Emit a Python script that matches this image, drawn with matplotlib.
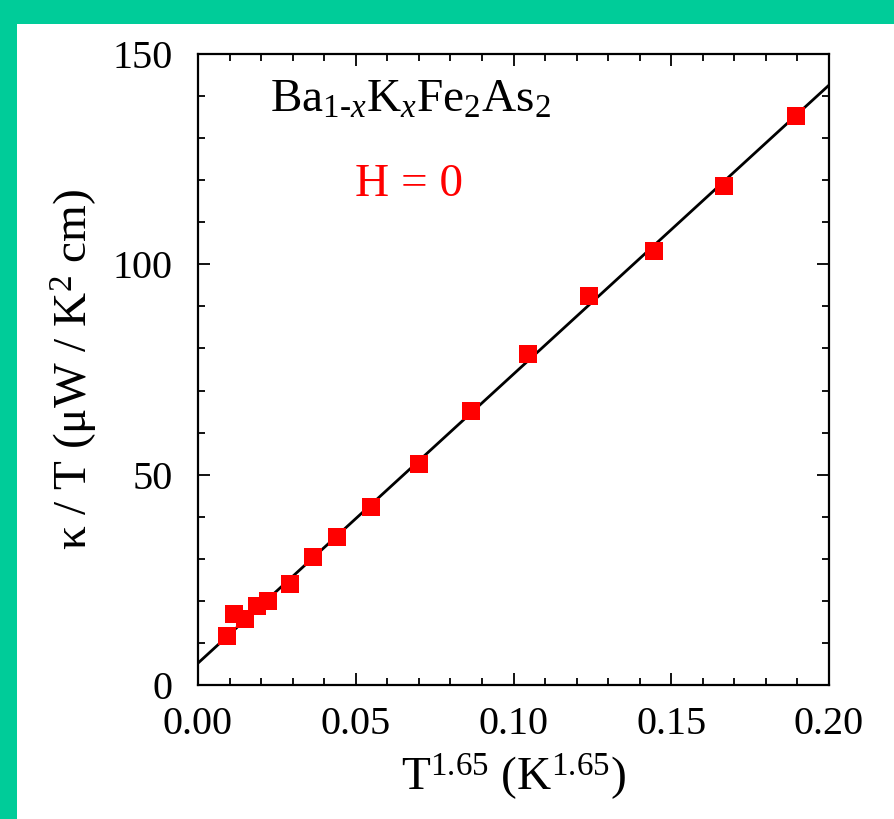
import matplotlib
matplotlib.use('Agg')
import matplotlib.pyplot as plt
from matplotlib.patches import Rectangle
from matplotlib.ticker import MultipleLocator

# data
t165 = [0.0092, 0.0114, 0.0149, 0.0187, 0.0222, 0.0292, 0.0364, 0.0441,
        0.0548, 0.0700, 0.0865, 0.1046, 0.1240, 0.1445, 0.1667, 0.1895]
kappa_T = [11.7, 16.9, 15.7, 18.8, 20.0, 24.0, 30.5, 35.2,
           42.4, 52.6, 65.2, 78.8, 92.4, 103.1, 118.6, 135.2]

# linear fit end points
fit_x = [0.0, 0.2]
fit_y = [5.2, 142.6]

plt.rcParams['font.family'] = ['Liberation Serif', 'DejaVu Serif']
plt.rcParams['mathtext.fontset'] = 'custom'
plt.rcParams['mathtext.rm'] = 'Liberation Serif'
plt.rcParams['mathtext.it'] = 'Liberation Serif:italic'
plt.rcParams['mathtext.bf'] = 'Liberation Serif:bold'

fig = plt.figure(figsize=(8.95, 8.19), dpi=100, facecolor='#00CC99')
fig.patches.append(Rectangle((17/895, 0), 1, 1 - 24/819, transform=fig.transFigure,
                             facecolor='white', edgecolor='none', zorder=-10))

ax = fig.add_axes([198/895, 1 - 685/819, 631/895, 631/819])
ax.set_zorder(5)

ax.plot(fit_x, fit_y, color='black', lw=2, zorder=2)
ax.plot(t165, kappa_T, 's', color='red', markersize=13, markeredgewidth=0, zorder=3)

ax.set_xlim(0, 0.2)
ax.set_ylim(0, 150)
ax.xaxis.set_major_locator(MultipleLocator(0.05))
ax.xaxis.set_minor_locator(MultipleLocator(0.01))
ax.yaxis.set_major_locator(MultipleLocator(50))
ax.yaxis.set_minor_locator(MultipleLocator(10))
ax.set_xticklabels([f'{v:.2f}' for v in ax.get_xticks()])

ax.tick_params(which='both', direction='in', top=True, right=True, width=1.3)
ax.tick_params(which='major', length=8.5, labelsize=29)
ax.tick_params(axis='x', which='major', pad=15)
ax.tick_params(axis='y', which='major', pad=18)
ax.tick_params(which='minor', length=5)
for s in ax.spines.values():
    s.set_linewidth(1.6)

ax.set_xlabel(r'T$^{1.65}$ (K$^{1.65}$)', fontsize=34, labelpad=6)
ax.set_ylabel(r'κ / T (μW / K$^2$ cm)', fontsize=34, labelpad=9)

ax.text(0.0228, 139, r'Ba$_{\text{1-}x}$K$_{x}$Fe$_{2}$As$_{2}$', fontsize=34,
        ha='left', va='center')
ax.text(0.067, 119, 'H = 0', fontsize=34, color='red', ha='center', va='center')

fig.savefig('out.png', dpi=100, facecolor=fig.get_facecolor())
